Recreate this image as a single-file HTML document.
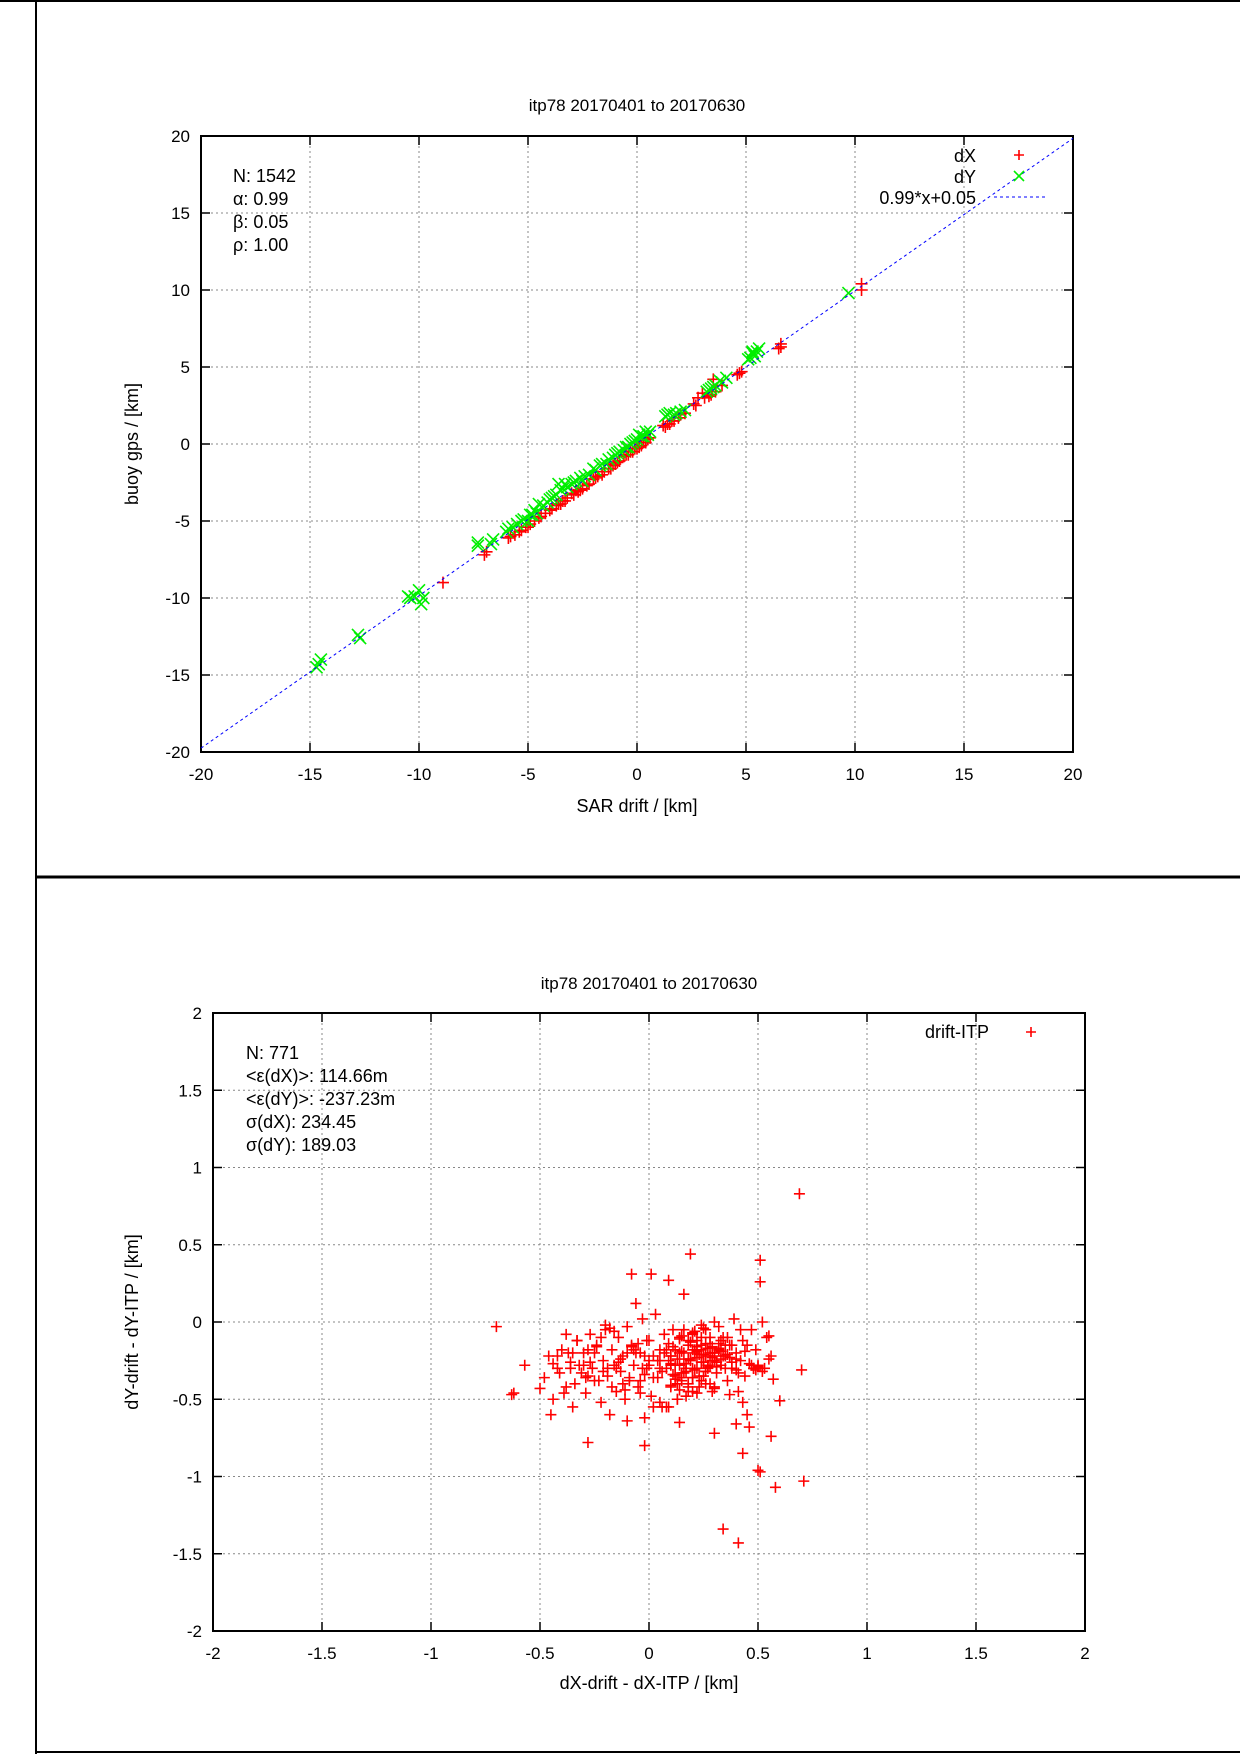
<!DOCTYPE html>
<html><head><meta charset="utf-8"><style>
html,body{margin:0;padding:0;background:#fff}
svg{display:block}
text{font-family:"Liberation Sans",sans-serif;fill:#000}
</style></head><body>
<svg id="s" width="1240" height="1754" viewBox="0 0 1240 1754">
<line x1="36" y1="0" x2="36" y2="1754" stroke="#000" stroke-width="2"/>
<line x1="0" y1="1" x2="1240" y2="1" stroke="#000" stroke-width="2"/>
<line x1="36" y1="877" x2="1240" y2="877" stroke="#000" stroke-width="3"/>
<line x1="36" y1="1752" x2="1240" y2="1752" stroke="#000" stroke-width="2"/>
</svg>
<script>
// ---- top chart data ----
const topXTicks=[-20,-15,-10,-5,0,5,10,15,20];
const topYTicks=[-20,-15,-10,-5,0,5,10,15,20];
const fitSlope=0.99, fitIntercept=0.05;
const dXx=[-8.9,-7,-6.9,-5.9,-5.6,-5.3,-5.0,-4.7,-4.2,-3.9,-3.5,-3.3,-3.2,-3.0,-2.8,-2.5,-2.2,-2.0,-1.8,-1.5,-1.2,-1.0,-0.8,-0.6,-0.3,-0.1,0,0.2,0.3,0.4,0.5,1.2,1.4,1.5,1.6,1.9,2.0,2.6,2.8,3.0,3.1,3.3,3.5,3.9,4.7,4.8,6.6,6.6,10.3,10.3,-4.5,-3.7,-2.7,-1.3,-0.5,
-5.8,-5.4,-5.1,-4.9,-4.4,-4.0,-3.6,-3.4,-2.9,-2.6,-2.3,-1.9,-1.6,-1.1,-0.9,-0.4,-0.2,0.1,0.6,1.3,1.7,2.2,2.7,3.4,3.6,4.6,6.5];
const dXy=[-9.0,-7.2,-7.0,-6.1,-5.9,-5.6,-5.4,-5.0,-4.5,-4.2,-3.9,-3.7,-3.5,-3.2,-3.0,-2.9,-2.6,-2.3,-2.1,-1.8,-1.6,-1.3,-1.1,-0.8,-0.5,-0.3,-0.3,-0.1,0.1,0.1,0.3,1.2,1.3,1.3,1.5,1.7,1.9,2.6,3.0,3.3,3.0,3.1,4.2,3.8,4.6,4.7,6.3,6.5,10.0,10.4,-4.8,-4.0,-3.1,-1.6,-0.7,
-6.0,-5.7,-5.4,-5.2,-4.7,-4.3,-3.9,-3.7,-3.3,-3.0,-2.7,-2.2,-2.0,-1.4,-1.2,-0.7,-0.5,-0.2,0.4,1.1,1.5,2.0,2.5,3.2,3.4,4.5,6.2];
const dYx=[-14.6,-14.5,-14.7,-12.8,-12.7,-10.4,-10.2,-10,-9.9,-9.8,-10.5,-7.3,-7.3,-6.7,-6.6,-6.0,-5.7,-5.5,-5.2,-5.0,-4.8,-4.6,-4.3,-4.5,-4.0,-3.8,-3.7,-3.6,-3.5,-3.3,-3.0,-2.8,-2.5,-2.2,-1.9,-1.6,-1.4,-1.1,-0.9,-0.6,-0.4,-0.2,0,0.1,0.2,0.4,0.5,1.3,1.5,1.8,2.2,3.2,3.4,3.6,3.9,4.1,5.1,5.3,5.4,5.6,5.3,9.7,
-5.9,-5.3,-4.9,-4.7,-4.1,-3.9,-3.4,-3.2,-2.9,-2.6,-2.4,-2.0,-1.7,-1.3,-1.0,-0.8,-0.5,-0.3,-0.1,0.3,0.6,1.4,1.7,2.0,3.3,3.5,3.8,5.2,5.5];
const dYy=[-14.3,-14.0,-14.5,-12.4,-12.6,-10.0,-9.9,-9.5,-10.4,-10.0,-9.9,-6.4,-6.6,-6.5,-6.2,-5.7,-5.4,-5.2,-4.9,-5.0,-4.6,-4.5,-4.0,-3.9,-3.6,-3.4,-3.3,-2.6,-3.0,-2.6,-2.6,-2.4,-2.4,-2.0,-1.7,-1.3,-1.3,-0.9,-0.6,-0.4,-0.2,0.1,0.3,0.6,0.5,0.8,0.6,1.8,2.0,2.0,2.2,3.4,3.6,3.8,4.0,4.3,5.5,5.9,5.7,6.2,6.0,9.8,
-5.5,-5.0,-4.6,-4.3,-3.8,-3.5,-2.9,-2.8,-2.5,-2.2,-2.1,-1.6,-1.4,-1.0,-0.7,-0.5,-0.2,0.0,0.2,0.5,0.8,1.9,1.9,2.1,3.5,3.7,4.1,5.6,6.0];
// ---- bottom chart data ----
const botXTicks=[-2,-1.5,-1,-0.5,0,0.5,1,1.5,2];
const botYTicks=[-2,-1.5,-1,-0.5,0,0.5,1,1.5,2];
const resX=[-0.7,-0.63,-0.62,-0.57,-0.5,-0.45,-0.28,-0.08,0.01,0.09,0.19,0.51,0.51,0.52,0.53,0.55,0.56,0.57,0.6,0.56,0.5,0.51,0.58,0.71,0.7,0.69,0.34,0.41,0.43,0.46,0.4,-0.02,-0.1,0.3,
-0.48,-0.46,-0.44,-0.42,-0.4,-0.38,-0.36,-0.35,-0.33,-0.31,-0.3,-0.29,-0.27,-0.26,-0.25,-0.24,-0.22,-0.21,-0.2,-0.19,-0.18,-0.17,-0.16,-0.15,-0.14,-0.13,-0.12,-0.11,-0.1,-0.09,-0.08,-0.07,-0.06,-0.05,-0.04,-0.03,-0.02,-0.01,0,0.01,0.02,0.03,0.04,0.05,0.06,0.07,
0.08,0.09,0.1,0.1,0.11,0.12,0.12,0.13,0.14,0.14,0.15,0.16,0.16,0.17,0.18,0.18,0.19,0.2,0.2,0.21,0.22,0.22,0.23,0.24,0.24,0.25,0.26,0.26,0.27,0.28,0.28,0.29,0.3,0.3,0.31,0.32,0.33,0.34,0.35,0.36,0.37,0.38,0.39,0.4,0.41,0.42,0.43,0.44,0.45,0.47,0.48,0.49,
-0.35,-0.3,-0.22,-0.15,-0.1,-0.05,0.0,0.05,0.1,0.15,0.2,0.25,0.3,0.35,0.4,0.15,0.22,0.28,0.18,0.24,0.12,0.33,0.26,0.2,0.08,-0.2,-0.28,-0.12,0.05,0.3,0.38,0.02,-0.04,0.14,0.36,0.42,-0.38,-0.25,0.1,0.27,
0.11,0.13,0.15,0.17,0.19,0.21,0.23,0.25,0.27,0.29,0.31,0.33,0.12,0.14,0.16,0.18,0.2,0.22,0.24,0.26,0.28,0.3,0.32,0.34,0.13,0.15,0.17,0.19,0.21,0.23,0.25,0.27,0.29,0.31,0.1,0.12,0.14,0.16,0.18,0.2,0.22,0.24,0.26,0.28,0.3,0.32,0.36,0.38,0.4,0.07,0.09,0.11,0.35,0.37,
0.14,0.18,0.22,0.26,0.3,0.16,0.2,0.24,0.28,0.32,0.04,0.06,0.08,0.1,0.02,0.0,-0.02,0.05,0.09,0.13,0.17,0.21,0.25,0.29,0.33,0.37,0.41,0.44,0.46,0.48,
-0.44,-0.41,-0.37,-0.34,-0.32,-0.28,-0.24,-0.21,-0.17,-0.13,-0.09,-0.06,-0.03,-0.42,-0.39,-0.33,-0.27,-0.23,-0.19,-0.16,-0.11,-0.07,-0.02,-0.36,-0.29,-0.18,-0.14,-0.08,-0.04,-0.01,
0.5,0.49,0.48,0.5,0.52,0.47,0.45,0.43,0.55,0.54];
const resY=[-0.03,-0.47,-0.46,-0.28,-0.43,-0.6,-0.78,0.31,0.31,0.27,0.44,0.4,0.26,0.0,-0.3,-0.09,-0.22,-0.37,-0.51,-0.74,-0.96,-0.97,-1.07,-1.03,-0.31,0.83,-1.34,-1.43,-0.85,-0.68,-0.66,-0.8,-0.64,-0.72,
-0.36,-0.22,-0.5,-0.3,-0.18,-0.42,-0.26,-0.55,-0.12,-0.33,-0.2,-0.46,-0.08,-0.3,-0.38,-0.15,-0.52,-0.25,-0.05,-0.35,-0.6,-0.18,-0.28,-0.45,-0.1,-0.32,-0.22,-0.5,-0.03,-0.38,-0.15,-0.28,0.12,-0.42,-0.2,0.02,-0.62,-0.3,-0.12,-0.48,-0.22,0.05,-0.36,-0.18,-0.55,-0.08,
-0.3,-0.14,-0.42,-0.22,-0.05,-0.35,-0.18,-0.5,-0.28,-0.1,-0.38,-0.2,0.18,-0.32,-0.15,-0.45,-0.25,-0.08,-0.36,-0.2,-0.3,-0.12,-0.42,-0.26,-0.18,-0.35,-0.05,-0.22,-0.3,-0.14,-0.4,-0.25,-0.2,0.0,-0.33,-0.18,-0.28,-0.1,-0.22,-0.38,-0.15,-0.3,0.02,-0.2,-0.45,-0.25,-0.12,-0.35,-0.6,-0.28,-0.3,-0.18,
-0.2,-0.28,-0.1,-0.3,-0.2,-0.14,-0.25,-0.3,-0.22,-0.33,-0.18,-0.26,-0.2,-0.3,-0.24,-0.36,-0.16,-0.22,-0.4,-0.1,-0.28,-0.24,-0.32,-0.45,-0.55,-0.02,-0.18,-0.4,-0.25,-0.42,-0.15,-0.55,-0.38,-0.65,-0.1,-0.05,-0.08,-0.2,-0.28,-0.28,
-0.16,-0.24,-0.19,-0.27,-0.13,-0.31,-0.21,-0.26,-0.17,-0.23,-0.29,-0.19,-0.34,-0.2,-0.27,-0.12,-0.36,-0.23,-0.15,-0.32,-0.2,-0.25,-0.14,-0.22,-0.4,-0.09,-0.3,-0.24,-0.18,-0.35,-0.21,-0.28,-0.16,-0.26,-0.27,-0.37,-0.11,-0.33,-0.24,-0.3,-0.19,-0.38,-0.14,-0.29,-0.22,-0.17,-0.21,-0.26,-0.31,-0.2,-0.25,-0.34,-0.15,-0.23,
-0.44,-0.42,-0.46,-0.4,-0.43,-0.05,-0.07,-0.02,-0.1,-0.03,-0.25,-0.32,-0.18,-0.41,-0.36,-0.28,-0.22,-0.52,-0.55,-0.5,-0.48,-0.06,-0.04,-0.45,-0.12,-0.47,-0.33,-0.19,-0.27,-0.3,
-0.27,-0.33,-0.2,-0.4,-0.28,-0.35,-0.16,-0.32,-0.42,-0.24,-0.36,-0.2,-0.3,-0.22,-0.46,-0.12,-0.26,-0.38,-0.3,-0.06,-0.44,-0.18,-0.34,-0.3,-0.36,-0.04,-0.26,-0.16,-0.46,-0.12,
-0.29,-0.31,-0.3,-0.28,-0.32,-0.05,-0.15,-0.52,-0.24,-0.1];

const svg=document.getElementById('s');
const NS='http://www.w3.org/2000/svg';
function mk(tag,attrs,parent){const e=document.createElementNS(NS,tag);for(const k in attrs)e.setAttribute(k,attrs[k]);(parent||svg).appendChild(e);return e;}
function txt(s,x,y,size,anchor,parent){const t=mk('text',{x:x,y:y,'font-size':size,'text-anchor':anchor||'start'},parent);t.textContent=s;return t;}

function axes(L,T,R,B,xt,yt,name){
  const g=mk('g',{});
  
  
  const xs=v=>L+(v-xt[0])/(xt[xt.length-1]-xt[0])*(R-L);
  const ys=v=>B-(v-yt[0])/(yt[yt.length-1]-yt[0])*(B-T);
  xt.forEach((v,i)=>{const x=xs(v);
    if(i>0&&i<xt.length-1){const l=mk('line',{x1:x,y1:T,x2:x,y2:B,stroke:'#888','stroke-width':1,'stroke-dasharray':'2,3'},g);
      }
    mk('line',{x1:x,y1:B,x2:x,y2:B-9,stroke:'#000','stroke-width':1.5},g);
    mk('line',{x1:x,y1:T,x2:x,y2:T+9,stroke:'#000','stroke-width':1.5},g);
    const t=txt(String(v),x,B+28,17,'middle',g);
    });
  yt.forEach((v,i)=>{const y=ys(v);
    if(i>0&&i<yt.length-1){const l=mk('line',{x1:L,y1:y,x2:R,y2:y,stroke:'#888','stroke-width':1,'stroke-dasharray':'2,3'},g);
      }
    mk('line',{x1:L,y1:y,x2:L+9,y2:y,stroke:'#000','stroke-width':1.5},g);
    mk('line',{x1:R,y1:y,x2:R-9,y2:y,stroke:'#000','stroke-width':1.5},g);
    const t=txt(String(v),L-11,y+6,17,'end',g);
    });
  const r=mk('rect',{x:L,y:T,width:R-L,height:B-T,fill:'none',stroke:'#000','stroke-width':2},g);
  
  return {xs,ys};
}
function plus(x,y,col,g,s){return mk('path',{d:`M${x-s},${y}H${x+s}M${x},${y-s}V${y+s}`,stroke:col,'stroke-width':1.6,fill:'none'},g);}
function cross(x,y,col,g,s){return mk('path',{d:`M${x-s},${y-s}L${x+s},${y+s}M${x-s},${y+s}L${x+s},${y-s}`,stroke:col,'stroke-width':1.6,fill:'none'},g);}

// ---- top chart ----
{
const L=201,T=136,R=1073,B=752;
const a=axes(L,T,R,B,topXTicks,topYTicks,'top-chart');
let t=txt('itp78 20170401 to 20170630',(L+R)/2,111,17,'middle');

t=txt('SAR drift / [km]',(L+R)/2,812,18,'middle');

t=txt('buoy gps / [km]',0,0,18,'middle');t.setAttribute('transform','translate(138,444) rotate(-90)');

const gr=mk('g',{});
dXx.forEach((v,i)=>{const p=plus(a.xs(v),a.ys(dXy[i]),'#f00',gr,6);});
const gg=mk('g',{});
dYx.forEach((v,i)=>{const p=cross(a.xs(v),a.ys(dYy[i]),'#0e0',gg,6);});
const fl=mk('line',{x1:a.xs(-20),y1:a.ys(fitSlope*-20+fitIntercept),x2:a.xs(20),y2:a.ys(fitSlope*20+fitIntercept),stroke:'#00f','stroke-width':1,'stroke-dasharray':'3,3'});

['N: 1542','α: 0.99','β: 0.05','ρ: 1.00'].forEach((s,i)=>{const e=txt(s,233,182+i*23,18);
});
t=txt('dX',976,162,18,'end');
plus(1019,155,'#f00',svg,5);
t=txt('dY',976,183,18,'end');
cross(1019,176,'#0e0',svg,5);
t=txt('0.99*x+0.05',976,204,18,'end');
mk('line',{x1:994,y1:197,x2:1045,y2:197,stroke:'#00f','stroke-width':1,'stroke-dasharray':'3,3'});
}
// ---- bottom chart ----
{
const L=213,T=1013,R=1085,B=1631;
const a=axes(L,T,R,B,botXTicks,botYTicks,'bottom-chart');
let t=txt('itp78 20170401 to 20170630',(L+R)/2,989,17,'middle');

t=txt('dX-drift - dX-ITP / [km]',(L+R)/2,1689,18,'middle');

t=txt('dY-drift - dY-ITP / [km]',0,0,18,'middle');t.setAttribute('transform','translate(138,1322) rotate(-90)');

const gr=mk('g',{});
resX.forEach((v,i)=>{const p=plus(a.xs(v),a.ys(resY[i]),'#f00',gr,5.5);});
['N: 771','<ε(dX)>:  114.66m','<ε(dY)>: -237.23m','σ(dX):  234.45','σ(dY):  189.03'].forEach((s,i)=>{const e=txt(s,246,1059+i*23,18);
});
t=txt('drift-ITP',989,1038,18,'end');
plus(1031,1032,'#f00',svg,5);
}
</script>
</body></html>
